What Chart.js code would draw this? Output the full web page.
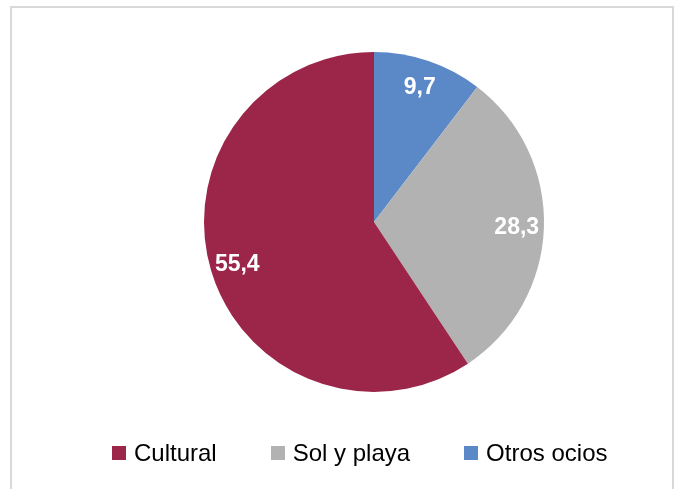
<!DOCTYPE html>
<html>
<head>
<meta charset="utf-8">
<script src="https://cdn.jsdelivr.net/npm/chart.js@4"></script>
<style>
  html, body { margin: 0; padding: 0; background: #fff; overflow: hidden; }
  body { width: 681px; height: 489px; position: relative; font-family: "Liberation Sans", Arial, sans-serif; }
  #frame { position: absolute; left: 10px; top: 6px; width: 664px; height: 500px; border: 2px solid #d9d9d9; box-sizing: border-box; }
  #wrap { position: absolute; left: 0; top: 0; width: 681px; height: 489px; }
  #legend { position: absolute; left: 112px; top: 438px; height: 30px; display: flex; align-items: center; }
  .item { display: flex; align-items: center; margin-right: 54px; font-size: 24px; line-height: 30px; color: #000; }
  .box { width: 14px; height: 14px; margin-right: 8px; }
</style>
</head>
<body>
<div id="frame"></div>
<div id="wrap"><canvas id="myChart"></canvas></div>
<div id="legend"></div>
<script>
// data, clockwise from the top
const categories = ['Otros ocios', 'Sol y playa', 'Cultural']
const values = [9.7, 28.3, 55.4]
const colors = ['#5b88c7', '#b2b2b2', '#9b264a']

// white value labels inside the slices
const sliceLabels = {
    id: 'sliceLabels',
    afterDatasetsDraw(chart) {
        const ctx = chart.ctx
        const meta = chart.getDatasetMeta(0)
        ctx.save()
        ctx.fillStyle = '#fff'
        ctx.font = 'bold 23px "Liberation Sans", Arial, sans-serif'
        ctx.textAlign = 'center'
        ctx.textBaseline = 'middle'
        meta.data.forEach((arc, i) => {
            const p = arc.getProps(['x', 'y', 'startAngle', 'endAngle', 'outerRadius'], true)
            const mid = (p.startAngle + p.endAngle) / 2
            const r = p.outerRadius * 0.84
            const txt = values[i].toFixed(1).replace('.', ',')
            ctx.fillText(txt, p.x + Math.cos(mid) * r, p.y + Math.sin(mid) * r + 1)
        })
        ctx.restore()
    }
}

const ctx = document.getElementById('myChart')
const myChart = new Chart(ctx, {
    type: 'pie',
    data: {
        labels: categories,
        datasets: [{
            data: values,
            backgroundColor: colors,
            borderWidth: 0
        }]
    },
    options: {
        responsive: true,
        maintainAspectRatio: false,
        animation: false,
        layout: { padding: { left: 204, top: 52, right: 137, bottom: 97 } },
        plugins: {
            legend: { display: false },
            tooltip: { enabled: false }
        }
    },
    plugins: [sliceLabels]
})

// legend in the original order (reverse of the drawing order)
const legend = document.getElementById('legend')
for (let i = categories.length - 1; i >= 0; i--) {
    const item = document.createElement('div')
    item.className = 'item'
    item.innerHTML = '<div class="box" style="background:' + colors[i] + '"></div><span>' + categories[i] + '</span>'
    legend.appendChild(item)
}
</script>
</body>
</html>
